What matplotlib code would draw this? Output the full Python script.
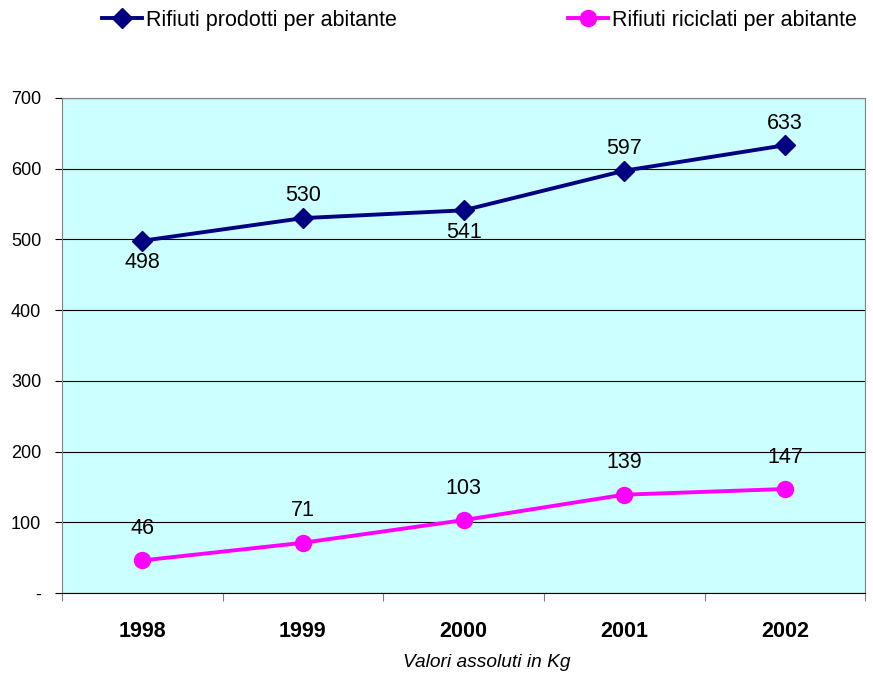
import numpy as np
from matplotlib import pyplot as plt

plt.rcParams['font.family'] = ['Liberation Sans', 'DejaVu Sans']

anni = ['1998', '1999', '2000', '2001', '2002']
prodotti = [498, 530, 541, 597, 633]
riciclati = [46, 71, 103, 139, 147]
# label placement for the first series: +1 above, -1 below
pos_prodotti = [-1, 1, -1, 1, 1]

fig = plt.figure(figsize=(8.73, 6.75), dpi=100)
ax = fig.add_axes([0.071, 0.1215, 0.92, 0.7335])
ax.set_facecolor('#CCFFFF')

x = np.arange(1, len(anni) + 1)
l1, = ax.plot(x, prodotti, color='#000080', marker='D', markersize=10,
              linewidth=2.8, label='Rifiuti prodotti per abitante')
l2, = ax.plot(x, riciclati, color='#FF00FF', marker='o', markersize=11.5,
              linewidth=2.8, label='Rifiuti riciclati per abitante')

for xi, v, p in zip(x, prodotti, pos_prodotti):
    ax.annotate(str(v), (xi, v), xytext=(0, 16 * p), textcoords='offset points',
                ha='center', va='center', fontsize=15.5)
for xi, v in zip(x, riciclati):
    ax.annotate(str(v), (xi, v), xytext=(0, 23), textcoords='offset points',
                ha='center', va='center', fontsize=15.5)

ax.set_xlim(0.5, len(anni) + 0.5)
ax.set_ylim(0, 700)
ax.set_yticks(range(0, 701, 100))
ax.set_yticklabels(['-'] + [str(v) for v in range(100, 701, 100)], fontsize=13)
ax.yaxis.grid(True, color='black', linewidth=0.8)
ax.set_axisbelow(True)

ax.set_xticks(np.arange(0.5, len(anni) + 1, 1))
ax.set_xticklabels([])
ax.set_xticks(x, minor=True)
ax.set_xticklabels(anni, minor=True, fontsize=15.5, fontweight='bold')
ax.tick_params(axis='x', which='minor', length=0, pad=20)
ax.tick_params(axis='x', which='major', length=6, direction='out', color='gray')
ax.tick_params(axis='y', length=5, direction='out', color='black', pad=10)

ax.spines['top'].set_color('gray')
ax.spines['right'].set_color('gray')
ax.spines['left'].set_color('gray')
ax.spines['bottom'].set_color('black')

fig.legend(handles=[l1], loc='center left', bbox_to_anchor=(0.117, 0.97),
           frameon=False, fontsize=15.5, handlelength=1.85, handletextpad=0.2,
           borderaxespad=0, borderpad=0)
fig.legend(handles=[l2], loc='center left', bbox_to_anchor=(0.651, 0.97),
           frameon=False, fontsize=15.5, handlelength=1.85, handletextpad=0.2,
           borderaxespad=0, borderpad=0)

fig.text(0.558, 0.018, 'Valori assoluti in Kg', ha='center', va='center',
         fontsize=13.8, style='italic')

plt.savefig('out.png', dpi=100)
plt.close(fig)
